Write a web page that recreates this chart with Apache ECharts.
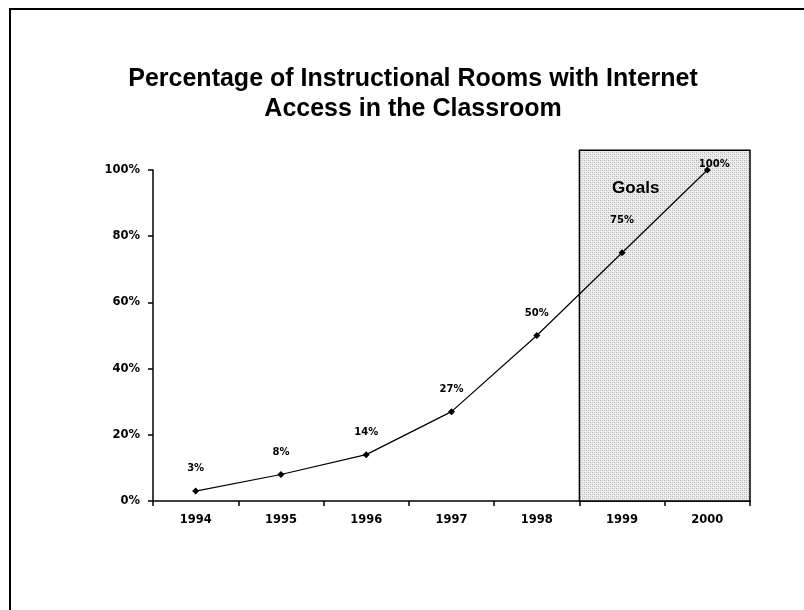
<!DOCTYPE html>
<html>
<head>
<meta charset="utf-8">
<script src="https://cdn.jsdelivr.net/npm/echarts@6/dist/echarts.min.js"></script>
<style>
html,body{margin:0;padding:0;background:#fff;}
#frame{position:absolute;left:9px;top:8px;width:800px;height:610px;border-left:2px solid #000;border-top:2px solid #000;}
#c{position:absolute;left:0;top:0;width:804px;height:610px;}
</style>
</head>
<body>
<div id="frame"></div>
<div id="c"></div>
<script>
var titleText = 'Percentage of Instructional Rooms with Internet\nAccess in the Classroom';
var years = ['1994','1995','1996','1997','1998','1999','2000'];
var percentValues = [3, 8, 14, 27, 50, 75, 100];
var yTicks = [0, 20, 40, 60, 80, 100];
var goalsLabel = 'Goals';
var goalsFrom = '1999';
var goalsTop = 106;

var chart = echarts.init(document.getElementById('c'), null, {renderer: 'canvas'});

// dotted texture for the goals region
var pat = document.createElement('canvas');
pat.width = 4; pat.height = 4;
var pc = pat.getContext('2d');
pc.fillStyle = '#ececec'; pc.fillRect(0, 0, 4, 4);
pc.fillStyle = '#b0b0b0';
pc.fillRect(0, 0, 1, 1); pc.fillRect(2, 2, 1, 1);
pc.fillStyle = '#cdcdcd';
pc.fillRect(2, 0, 1, 1); pc.fillRect(0, 2, 1, 1);
pc.fillStyle = '#f6f6f6';
pc.fillRect(1, 3, 1, 1); pc.fillRect(3, 1, 1, 1);

var labelTweaks = {5: {offset: [0, -10]}, 6: {position: 'right', distance: -12, offset: [0, -6]}};
var seriesData = percentValues.map(function (v, i) {
  var item = {value: v};
  if (labelTweaks[i]) item.label = labelTweaks[i];
  return item;
});

var option = {
  animation: false,
  backgroundColor: 'transparent',
  title: {
    text: titleText,
    left: 408,
    top: 59,
    textAlign: 'center',
    textStyle: {fontFamily: 'Liberation Sans, Arial, sans-serif', fontWeight: 'bold', fontSize: 25, lineHeight: 30, color: '#000'}
  },
  grid: {left: 153, right: 54, top: 170, bottom: 109, containLabel: false},
  xAxis: {
    type: 'category',
    data: years,
    boundaryGap: true,
    axisLine: {show: true, lineStyle: {color: '#000', width: 1.5}},
    axisTick: {show: true, inside: false, length: 5, lineStyle: {color: '#000', width: 1.5}},
    axisLabel: {fontFamily: 'DejaVu Sans', fontWeight: 'bold', fontSize: 11.5, color: '#000', margin: 13},
    splitLine: {show: false}
  },
  yAxis: {
    type: 'value',
    min: 0, max: 100, interval: 20,
    axisLine: {show: true, lineStyle: {color: '#000', width: 1.5}},
    axisTick: {show: true, inside: false, length: 5, lineStyle: {color: '#000', width: 1.5}},
    axisLabel: {fontFamily: 'DejaVu Sans', fontWeight: 'bold', fontSize: 11.5, color: '#000', margin: 13,
      formatter: function (v) { return v + '%'; }},
    splitLine: {show: false}
  },
  series: [{
    type: 'line',
    data: seriesData,
    symbol: 'diamond',
    symbolSize: 7,
    z: 5,
    lineStyle: {color: '#000', width: 1.2},
    itemStyle: {color: '#000'},
    label: {
      show: true, position: 'top', distance: 14,
      fontFamily: 'DejaVu Sans', fontWeight: 'bold', fontSize: 10, color: '#000',
      formatter: function (p) { return p.value + '%'; }
    }
  }]
};
chart.setOption(option);

function placeGoals() {
  var idx = years.indexOf(goalsFrom);
  var a = chart.convertToPixel({xAxisIndex: 0}, years[idx - 1]);
  var b = chart.convertToPixel({xAxisIndex: 0}, years[idx]);
  var last = chart.convertToPixel({xAxisIndex: 0}, years[years.length - 1]);
  var step = b - a;
  var x0 = (a + b) / 2;
  var x1 = last + step / 2;
  var yTop = chart.convertToPixel({yAxisIndex: 0}, goalsTop);
  var yBot = chart.convertToPixel({yAxisIndex: 0}, 0);
  chart.setOption({
    graphic: [
      {type: 'rect', z: 1, silent: true,
        shape: {x: x0, y: yTop, width: x1 - x0, height: yBot - yTop},
        style: {fill: {image: pat, repeat: 'repeat'}, stroke: '#000', lineWidth: 1.5}},
      {type: 'text', z: 6, silent: true,
        x: x0 + (x1 - x0) * 0.33, y: yTop + 38,
        style: {text: goalsLabel, fontFamily: 'Liberation Sans, Arial, sans-serif', fontWeight: 'bold', fontSize: 17,
          fill: '#000', align: 'center', verticalAlign: 'middle'}}
    ]
  });
}
placeGoals();
</script>
</body>
</html>
